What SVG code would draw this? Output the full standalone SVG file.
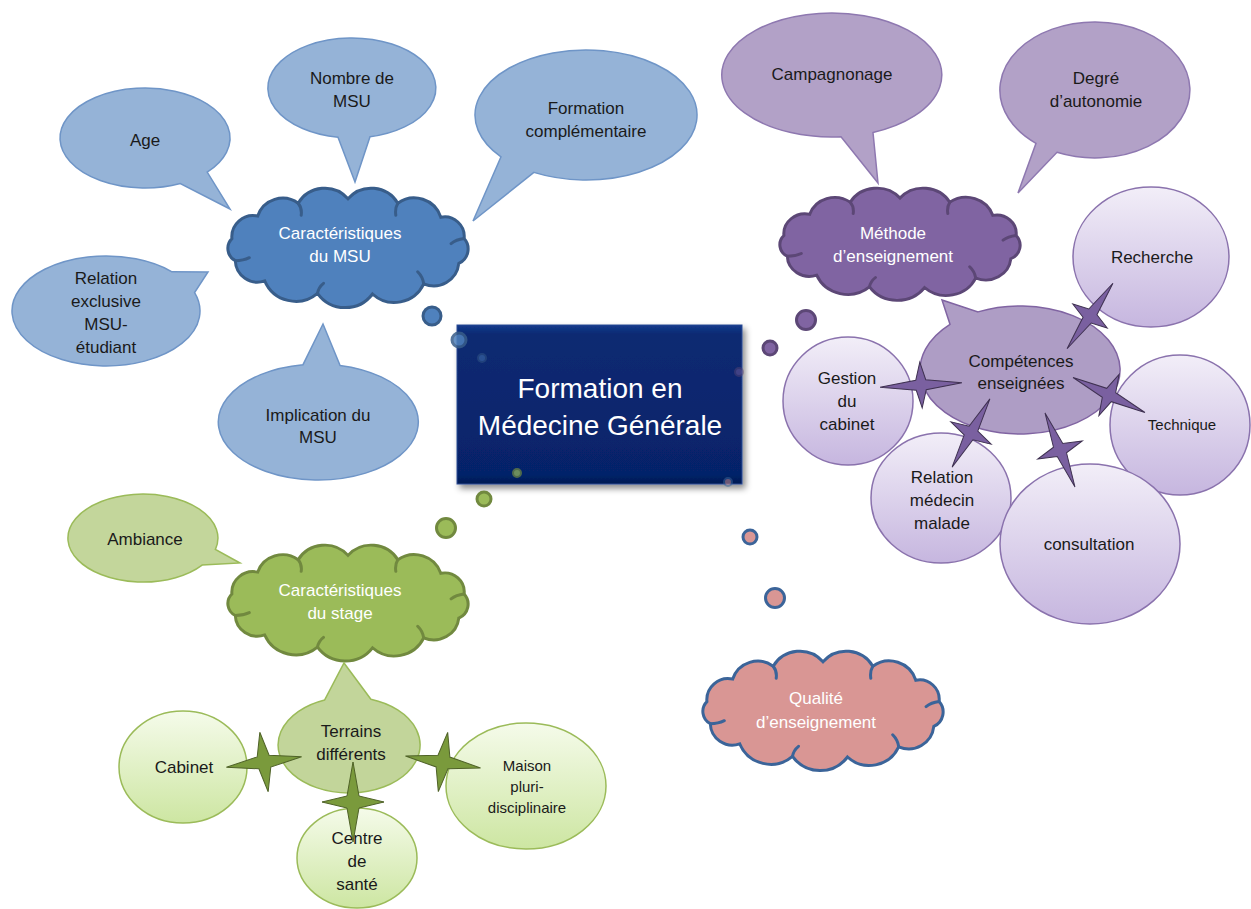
<svg xmlns="http://www.w3.org/2000/svg" width="1251" height="909" viewBox="0 0 1251 909">
<defs>
<style>
.lbl{font-family:"Liberation Sans",Arial,sans-serif;font-size:17px;fill:#1a1a1a;text-anchor:middle}
.wht{fill:#ffffff}
.sm{font-size:15px}
.big{font-size:28px;fill:#ffffff}
.bsp{fill:#95b3d7;stroke:#6f95c7;stroke-width:1.5}
.psp{fill:#b2a1c7;stroke:#8e78b0;stroke-width:1.5}
.gsp{fill:#c3d69b;stroke:#9bbb59;stroke-width:1.5}
.pci{fill:url(#pg);stroke:#8a72ad;stroke-width:1.5}
.gci{fill:url(#gg);stroke:#9bbb59;stroke-width:1.5}
.curl{fill:none;stroke-width:3;stroke-linecap:round}
.pst{fill:#7a60a0;stroke:#3f3151;stroke-width:1}
.gst{fill:#7a9a3c;stroke:#4f6228;stroke-width:1}
.tb{stroke-width:3}
</style>
<linearGradient id="pg" x1="0" y1="0" x2="0" y2="1"><stop offset="0" stop-color="#f2eef8"/><stop offset="1" stop-color="#c6b6df"/></linearGradient>
<linearGradient id="gg" x1="0" y1="0" x2="0" y2="1"><stop offset="0" stop-color="#f5fbea"/><stop offset="1" stop-color="#cde6a2"/></linearGradient>
<linearGradient id="boxg" x1="0" y1="0" x2="0" y2="1"><stop offset="0" stop-color="#143a8c"/><stop offset="0.06" stop-color="#0b2a72"/><stop offset="0.94" stop-color="#06236a"/><stop offset="1" stop-color="#041a52"/></linearGradient>
<filter id="sh" x="-10%" y="-10%" width="125%" height="130%"><feDropShadow dx="3" dy="4" stdDeviation="3" flood-color="#000" flood-opacity="0.45"/></filter>
<g id="cloud">
<path d="M3.9,51.6 A21.3,21.3 0 0 1 29.7,29 A26.3,26.3 0 0 1 70.2,16.2 A31,31 0 0 1 120,11.7 A31,31 0 0 1 169.8,16.2 A28,28 0 0 1 212.8,30.2 A19.6,19.6 0 0 1 236.1,51.6 A15.7,15.7 0 0 1 230.8,76.4 A25.2,25.2 0 0 1 195.7,96.8 A32.4,32.4 0 0 1 144.5,107 A34.1,34.1 0 0 1 89.5,106.3 A33.7,33.7 0 0 1 36.7,93.8 A22.1,22.1 0 0 1 7.3,73.7 A13.9,13.9 0 0 1 3.9,51.6 Z" stroke-width="3"/>
<path class="curl" d="M70.2,16.2 q4,5 3,12 M169.8,16.2 q-3,5 -2,12 M236.1,51.6 q-8,1 -13,5 M195.7,96.8 q-1,-7 -6,-12 M89.5,106.3 q1,-6 6,-10 M7.3,73.7 q8,0 14,-3"/>
</g>
</defs>
<rect width="1251" height="909" fill="#ffffff"/>

<!-- Blue cluster -->
<g id="age"><path class="bsp" d="M180.3,183.5 A85,50 0 1 1 207.2,172.1 L230,209 Z"/><text class="lbl" x="145" y="146">Age</text></g>
<g id="nombre"><path class="bsp" d="M338,137.3 A84,50 0 1 1 370,136.8 L355,182 Z"/><text class="lbl" x="352" y="84">Nombre de</text><text class="lbl" x="352" y="107">MSU</text></g>
<g id="formation-comp"><path class="bsp" d="M501,156.8 A111,65 0 1 1 533.9,172.4 L473,221 Z"/><text class="lbl" x="586" y="114">Formation</text><text class="lbl" x="586" y="137">complémentaire</text></g>
<g id="relation-excl"><path class="bsp" d="M194.6,292.6 A94,55 0 1 1 172,271.8 L208,272 Z"/><text class="lbl" x="106" y="284">Relation</text><text class="lbl" x="106" y="307">exclusive</text><text class="lbl" x="106" y="330">MSU-</text><text class="lbl" x="106" y="353">étudiant</text></g>
<g id="implication"><path class="bsp" d="M340,365.4 A100,58 0 1 1 303,364.7 L323,324 Z"/><text class="lbl" x="318" y="421">Implication du</text><text class="lbl" x="318" y="443">MSU</text></g>
<g id="carac-msu"><use href="#cloud" transform="translate(228,187)" fill="#4f81bd" stroke="#385d8a"/><text class="lbl wht" x="340" y="239">Caractéristiques</text><text class="lbl wht" x="340" y="262">du MSU</text></g>

<!-- Purple cluster -->
<g id="campagnonage"><path class="psp" d="M841,136.8 A110,62 0 1 1 873,132.5 L878,183 Z"/><text class="lbl" x="832" y="80">Campagnonage</text></g>
<g id="degre"><path class="psp" d="M1036,143.3 A95,68 0 1 1 1057,152.3 L1018,193 Z"/><text class="lbl" x="1096" y="84">Degré</text><text class="lbl" x="1096" y="107">d’autonomie</text></g>
<g id="methode"><use href="#cloud" transform="translate(780,187) scale(1,0.94)" fill="#8064a2" stroke="#5c4776"/><text class="lbl wht" x="893" y="239">Méthode</text><text class="lbl wht" x="893" y="262">d’enseignement</text></g>
<g id="competences"><path d="M978,311.9 A100,64 0 1 1 950,324.3 L942,300 Z" fill="#ae9dc5" stroke="#8064a2" stroke-width="1.5"/><text class="lbl" x="1021" y="367">Compétences</text><text class="lbl" x="1021" y="389">enseignées</text></g>
<g id="recherche"><ellipse class="pci" cx="1151" cy="257" rx="78" ry="70"/><text class="lbl" x="1152" y="263">Recherche</text></g>
<g id="gestion"><ellipse class="pci" cx="848" cy="401" rx="65" ry="64"/><text class="lbl" x="847" y="384">Gestion</text><text class="lbl" x="847" y="407">du</text><text class="lbl" x="847" y="430">cabinet</text></g>
<g id="technique"><ellipse class="pci" cx="1180" cy="425" rx="70" ry="70"/><text class="lbl sm" x="1182" y="430">Technique</text></g>
<g id="relation-med"><ellipse class="pci" cx="941" cy="498" rx="70" ry="65"/><text class="lbl" x="942" y="483">Relation</text><text class="lbl" x="942" y="506">médecin</text><text class="lbl" x="942" y="529">malade</text></g>
<g id="consultation"><ellipse class="pci" cx="1090" cy="544" rx="90" ry="80"/><text class="lbl" x="1089" y="550">consultation</text></g>

<!-- Green cluster -->
<g id="ambiance"><path class="gsp" d="M202.1,565.1 A75,44 0 1 1 215.4,549.4 L240,563 Z"/><text class="lbl" x="145" y="545">Ambiance</text></g>
<g id="carac-stage"><use href="#cloud" transform="translate(228,544) scale(1,0.97)" fill="#9bbb59" stroke="#71893f"/><text class="lbl wht" x="340" y="596">Caractéristiques</text><text class="lbl wht" x="340" y="619">du stage</text></g>
<g id="terrains"><path d="M370.9,699.3 A71,48 0 1 1 324.7,699.9 L344,663 Z" fill="#c2d59a" stroke="#9bbb59" stroke-width="1.5"/><text class="lbl" x="351" y="737">Terrains</text><text class="lbl" x="351" y="760">différents</text></g>
<g id="cabinet"><ellipse class="gci" cx="183" cy="767" rx="64" ry="56"/><text class="lbl" x="184" y="773">Cabinet</text></g>
<g id="maison"><ellipse class="gci" cx="526" cy="786" rx="80" ry="63"/><text class="lbl sm" x="527" y="771">Maison</text><text class="lbl sm" x="527" y="792">pluri-</text><text class="lbl sm" x="527" y="813">disciplinaire</text></g>
<g id="centre"><ellipse class="gci" cx="357" cy="858" rx="60" ry="50"/><text class="lbl" x="357" y="844">Centre</text><text class="lbl" x="357" y="867">de</text><text class="lbl" x="357" y="890">santé</text></g>

<!-- Pink -->
<g id="qualite"><use href="#cloud" transform="translate(703,650)" fill="#d99694" stroke="#3b6499"/><text class="lbl wht" x="816" y="704">Qualité</text><text class="lbl wht" x="816" y="728">d’enseignement</text></g>

<!-- Center -->
<g id="center"><rect x="457" y="325" width="285" height="159" fill="url(#boxg)" stroke="#2a4a94" stroke-width="1" filter="url(#sh)"/><text class="lbl big" x="600" y="398">Formation en</text><text class="lbl big" x="600" y="435">Médecine Générale</text></g>

<!-- Connectors -->
<g id="connectors">
<circle class="tb" cx="432" cy="316" r="9" fill="#4f81bd" stroke="#385d8a"/>
<circle class="tb" cx="459" cy="340" r="7" fill="#4f81bd" stroke="#385d8a" opacity="0.85"/>
<circle cx="482" cy="358" r="4" fill="#4f81bd" stroke="#385d8a" stroke-width="2" opacity="0.45"/>
<circle class="tb" cx="806" cy="320" r="9.5" fill="#8064a2" stroke="#5c4776"/>
<circle class="tb" cx="770" cy="348" r="7" fill="#8064a2" stroke="#5c4776"/>
<circle cx="739" cy="372" r="4" fill="#8064a2" stroke="#5c4776" stroke-width="2" opacity="0.45"/>
<circle class="tb" cx="446" cy="528" r="9.5" fill="#9bbb59" stroke="#71893f"/>
<circle class="tb" cx="484" cy="499" r="7" fill="#9bbb59" stroke="#71893f"/>
<circle cx="517" cy="473" r="4" fill="#9bbb59" stroke="#71893f" stroke-width="2" opacity="0.7"/>
<circle class="tb" cx="775" cy="598" r="9.5" fill="#d99694" stroke="#3b6499"/>
<circle class="tb" cx="750" cy="537" r="7" fill="#d99694" stroke="#3b6499"/>
<circle cx="728" cy="482" r="4" fill="#d99694" stroke="#3b6499" stroke-width="2" opacity="0.5"/>
<polygon class="pst" transform="translate(1090,316) rotate(-55)" points="40,0 5,-5 0,-21 -5,-5 -40,0 -5,5 0,21 5,5"/>
<polygon class="pst" transform="translate(921,385) rotate(-3)" points="41,0 5,-5 0,-23 -5,-5 -41,0 -5,5 0,23 5,5"/>
<polygon class="pst" transform="translate(971,433) rotate(-61)" points="39,0 5,-5 0,-23 -5,-5 -39,0 -5,5 0,23 5,5"/>
<polygon class="pst" transform="translate(1109,395) rotate(26)" points="40,0 5,-5 0,-23 -5,-5 -40,0 -5,5 0,23 5,5"/>
<polygon class="pst" transform="translate(1060,450) rotate(68)" points="40,0 5,-5 0,-24 -5,-5 -40,0 -5,5 0,24 5,5"/>
<polygon class="gst" transform="translate(264,762) rotate(-8)" points="38,0 6,-6 0,-30 -6,-6 -38,0 -6,6 0,30 6,6"/>
<polygon class="gst" transform="translate(353,802)" points="31,0 6,-6 0,-40 -6,-6 -31,0 -6,6 0,40 6,6"/>
<polygon class="gst" transform="translate(443,762) rotate(9)" points="38,0 6,-6 0,-30 -6,-6 -38,0 -6,6 0,30 6,6"/>
</g>
</svg>
